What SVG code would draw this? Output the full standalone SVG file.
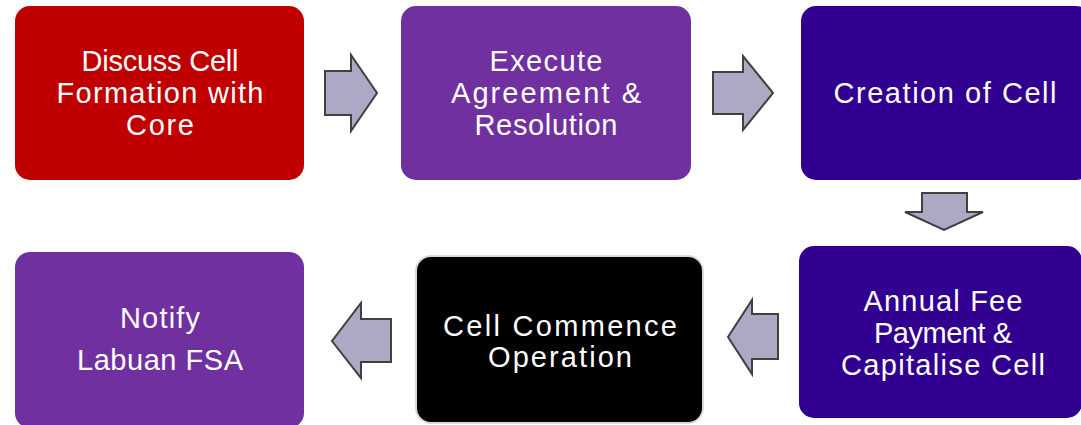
<svg xmlns="http://www.w3.org/2000/svg" width="1081" height="425" viewBox="0 0 1081 425">
<style>
.t{font-family:"Liberation Sans",Arial,sans-serif;font-size:29px;fill:#ffffff;text-anchor:middle}
.arr{fill:#ABA9C4;stroke:#404040;stroke-width:2;stroke-linejoin:miter}
</style>
<rect width="1081" height="425" fill="#ffffff"/>
<g id="connectors">
<polygon class="arr" points="325,71 351,71 351,55 377,93 351,131 351,115 325,115"/>
<polygon class="arr" points="713,72 743,72 743,56 773,93 743,130 743,114 713,114"/>
<polygon class="arr" points="922,193 967,193 967,212 983,212 944,230 905,212 922,212"/>
<polygon class="arr" points="778,314 752,314 752,300 728,337 752,374 752,359 778,359"/>
<polygon class="arr" points="391,319 361,319 361,303 332,341 361,378 361,362 391,362"/>
</g>
<g id="node1">
<rect x="15" y="6" width="289" height="174" rx="15" fill="#C00000"/>
<text class="t" x="160" y="71" textLength="157" lengthAdjust="spacing">Discuss Cell</text>
<text class="t" x="160" y="103" textLength="207" lengthAdjust="spacing">Formation with</text>
<text class="t" x="160" y="135" textLength="68" lengthAdjust="spacing">Core</text>
</g>
<g id="node2">
<rect x="401" y="6" width="290" height="174" rx="15" fill="#7030A0"/>
<text class="t" x="546" y="71" textLength="113" lengthAdjust="spacing">Execute</text>
<text class="t" x="546" y="103" textLength="190" lengthAdjust="spacing">Agreement &amp;</text>
<text class="t" x="546" y="135" textLength="143" lengthAdjust="spacing">Resolution</text>
</g>
<g id="node3">
<rect x="801" y="6" width="290" height="174" rx="15" fill="#310090"/>
<text class="t" x="945" y="103" textLength="223" lengthAdjust="spacing">Creation of Cell</text>
</g>
<g id="node4">
<rect x="799" y="246" width="283" height="172" rx="15" fill="#310090"/>
<text class="t" x="943" y="311" textLength="159" lengthAdjust="spacing">Annual Fee</text>
<text class="t" x="943" y="343" textLength="138" lengthAdjust="spacing">Payment &amp;</text>
<text class="t" x="943" y="375" textLength="204" lengthAdjust="spacing">Capitalise Cell</text>
</g>
<g id="node5">
<rect x="416" y="256" width="287" height="167" rx="15" fill="#000000" stroke="#DADADA" stroke-width="2"/>
<text class="t" x="560" y="336" textLength="234" lengthAdjust="spacing">Cell Commence</text>
<text class="t" x="560" y="367" textLength="144" lengthAdjust="spacing">Operation</text>
</g>
<g id="node6">
<rect x="15" y="252" width="289" height="176" rx="15" fill="#7030A0"/>
<text class="t" x="160" y="328" textLength="80" lengthAdjust="spacing">Notify</text>
<text class="t" x="160" y="370" textLength="166" lengthAdjust="spacing">Labuan FSA</text>
</g>
</svg>
